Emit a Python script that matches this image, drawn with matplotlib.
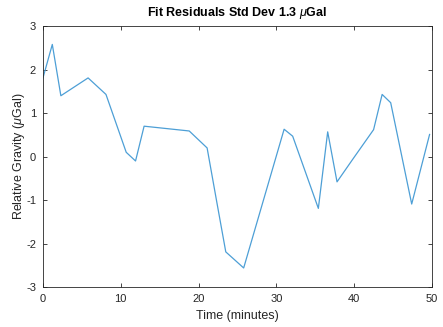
import matplotlib
matplotlib.use('Agg')
import matplotlib.pyplot as plt

plt.rcParams['font.family'] = ['Liberation Sans', 'DejaVu Sans']
plt.rcParams['mathtext.fontset'] = 'custom'
plt.rcParams['mathtext.it'] = 'Liberation Sans:italic'
plt.rcParams['mathtext.rm'] = 'Liberation Sans'
plt.rcParams['axes.unicode_minus'] = False

# time in minutes and residuals in microGal
time_min = [0.0, 1.2, 2.3, 5.8, 8.1, 10.7, 11.9, 13.0, 18.8, 21.1, 22.3, 23.5,
            25.8, 31.0, 32.1, 35.4, 36.6, 37.8, 39.9, 42.5, 43.6, 44.7, 47.4, 49.7]
residual = [1.81, 2.58, 1.40, 1.81, 1.43, 0.10, -0.10, 0.70, 0.59, 0.20, -1.0, -2.19,
            -2.56, 0.63, 0.47, -1.19, 0.57, -0.58, -0.04, 0.62, 1.43, 1.24, -1.09, 0.51]

xticks = [0, 10, 20, 30, 40, 50]
yticks = [-3, -2, -1, 0, 1, 2, 3]

fig = plt.figure(figsize=(4.43, 3.27), dpi=100)
ax = fig.add_axes([0.097, 0.122, 0.878, 0.798])

ax.plot(time_min, residual, color='#4d9fd6', linewidth=0.9)

ax.set_xlim(0, 50)
ax.set_ylim(-3, 3)
ax.set_xticks(xticks)
ax.set_yticks(yticks)

axis_gray = '#262626'
for s in ax.spines.values():
    s.set_color(axis_gray)
    s.set_linewidth(0.6)
ax.tick_params(direction='in', top=True, right=True, length=3, width=0.6,
               colors=axis_gray, labelsize=8, pad=5)

ax.set_title(r'Fit Residuals Std Dev 1.3 $\mu$Gal', fontsize=9,
             fontweight='bold', pad=7)
ax.set_xlabel('Time (minutes)', fontsize=9, color=axis_gray, labelpad=4)
ax.set_ylabel(r'Relative Gravity ($\mu$Gal)', fontsize=9, color=axis_gray,
              labelpad=-1)

fig.savefig('out.png', dpi=100)
